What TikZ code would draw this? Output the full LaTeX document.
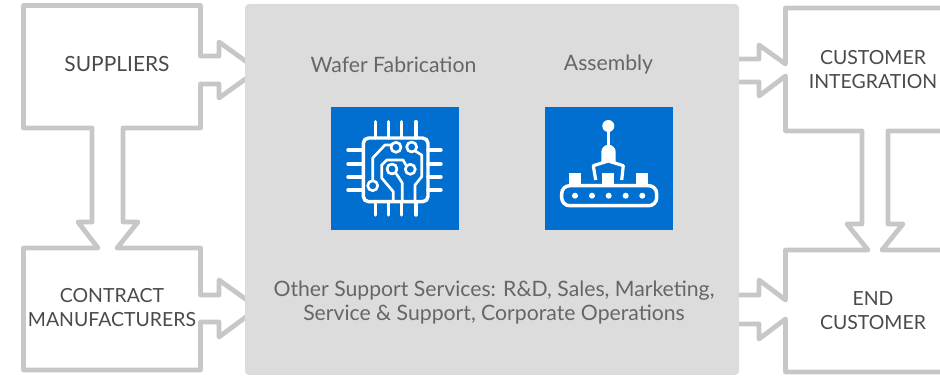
\documentclass[tikz,border=0pt]{standalone}
\usepackage{fontspec}
\setmainfont{Lato}
\usepackage{tikz}
\usetikzlibrary{positioning}
\definecolor{outlinegray}{HTML}{C6C7C9}
\definecolor{panelgray}{HTML}{DCDCDC}
\definecolor{iconblue}{HTML}{006FCF}
\definecolor{textdark}{HTML}{4A4A4A}
\definecolor{textgray}{HTML}{666666}
\tikzset{
    outline/.style={draw=outlinegray, line width=3.6pt, line join=round, line cap=round},
    panelbox/.style={fill=panelgray, rounded corners=3pt, inner sep=0pt, minimum width=370.5pt, minimum height=278.25pt},
    iconbox/.style={fill=iconblue, inner sep=0pt, minimum width=96pt, minimum height=92.25pt},
    partylabel/.style={text=textdark, align=center, font=\fontsize{14.6}{18}\selectfont},
    steplabel/.style={text=textgray, align=center, font=\fontsize{15.9}{17.3}\selectfont},
    iconline/.style={draw=white, line width=2.6pt, line cap=round, line join=round},
    icontrace/.style={draw=white, line width=2pt, line join=round},
    iconfill/.style={fill=white}
}

\begin{document}
\begin{tikzpicture}[x=0.75pt, y=-0.75pt]
    \useasboundingbox (0,0) rectangle (940,377);

    % left side outlines
    \draw [outline] (200.5,84) -- (219,84) -- (219,98) -- (258,70) -- (219,42) -- (219,56) -- (200.5,56) -- (200.5,5.5) -- (23.5,5.5) -- (23.5,128) -- (92,128) -- (92,222) -- (78,222) -- (98,248) -- (23.5,248) -- (23.5,370) -- (200.5,370) -- (200.5,322) -- (219,322) -- (219,337) -- (258,308) -- (219,280) -- (219,295) -- (200.5,295) -- (200.5,248) -- (117,248) -- (138,222) -- (123,222) -- (123,128) -- (200.5,128) -- cycle;

    % right side outlines
    \draw [outline] (739,59) -- (759,59) -- (759,45) -- (785.5,64) -- (785.5,8) -- (940,8);
    \draw [outline] (739,82) -- (759,82) -- (759,96) -- (785.5,76) -- (785.5,131) -- (862,131) -- (862,224) -- (847,224) -- (868,250) -- (785.5,250) -- (785.5,300) -- (759,280) -- (759,295) -- (739,295);
    \draw [outline] (739,324) -- (759,324) -- (759,339) -- (785.5,319) -- (785.5,372) -- (940,372);
    \draw [outline] (940,131) -- (888,131) -- (888,224) -- (903,224) -- (882,250) -- (940,250);

    % panel and its labels
    \node (panel) at (492,189.5) [panelbox] {};
    \node (wafer) at (393.5,64.5) [steplabel] {Wafer Fabrication};
    \node (assembly) at (608.5,64.5) [steplabel] {Assembly};
    \node (support) at (494,302.5) [steplabel] {Other Support Services: R\&D, Sales, Marketing,\\Service \& Support, Corporate Operations};

    \node (suppliers) at (117,64) [partylabel, font=\fontsize{15.7}{18}\selectfont] {SUPPLIERS};
    \node (contract) at (112,308) [partylabel] {CONTRACT\\MANUFACTURERS};
    \node (integration) at (873,70) [partylabel] {CUSTOMER\\INTEGRATION};
    \node (endcustomer) at (873,311) [partylabel] {END\\CUSTOMER};

    % chip icon
    \node (chipbox) at (395,168.5) [iconbox] {};
    \draw [iconline, rounded corners=4pt] (363.3,138) rectangle (428,201.7);
    \foreach \px in {375.7,388.3,401.7,416} {
        \draw [iconline] (\px,121.7) -- (\px,138);
        \draw [iconline] (\px,201.7) -- (\px,215);
    }
    \foreach \py in {150,164,177,190} {
        \draw [iconline] (348,\py) -- (363.3,\py);
        \draw [iconline] (428,\py) -- (441,\py);
    }
    \draw [icontrace] (396,147.3) circle (5);
    \draw [icontrace] (411.7,147) circle (5);
    \draw [icontrace] (392,169) circle (5);
    \draw [icontrace] (410.3,169.3) circle (5);
    \draw [icontrace] (372.7,185.7) circle (5);
    \draw [icontrace] (372.7,180.7) -- (372.7,158) -- (385,145) -- (391,145);
    \draw [icontrace] (415,151) -- (421.7,155) -- (421.7,176.7) -- (415,185) -- (415,201);
    \draw [icontrace] (406.5,166) -- (403,160) -- (386.7,160) -- (381.7,165) -- (381.7,178) -- (393.3,191.7) -- (393.3,201);
    \draw [icontrace] (395.5,172.5) -- (402.3,183) -- (402.3,201);

    % robot arm icon
    \node (robotbox) at (609,168.5) [iconbox] {};
    \fill [iconfill] (608.3,126) circle (6);
    \draw [iconline] (608.3,126) -- (608.3,146);
    \fill [iconfill] (601.3,162) -- (601.3,152) arc (180:360:7.2) -- (615.7,162) -- cycle;
    \draw [icontrace, line width=2.4pt] (595.7,180) -- (593.3,165.7) -- (608.3,161) -- (623.3,165.7) -- (621.7,180);
    \fill [iconfill] (569,172.7) rectangle (581,186);
    \fill [iconfill] (602.3,172.7) rectangle (614,186);
    \fill [iconfill] (636,172.7) rectangle (648,186);
    \draw [iconline, rounded corners=6pt] (561.7,185.7) rectangle (656.7,205.7);
    \foreach \px in {575,592,608.7,625.7,642.3} {
        \fill [iconfill] (\px,195.7) circle (3);
    }
\end{tikzpicture}
\end{document}
